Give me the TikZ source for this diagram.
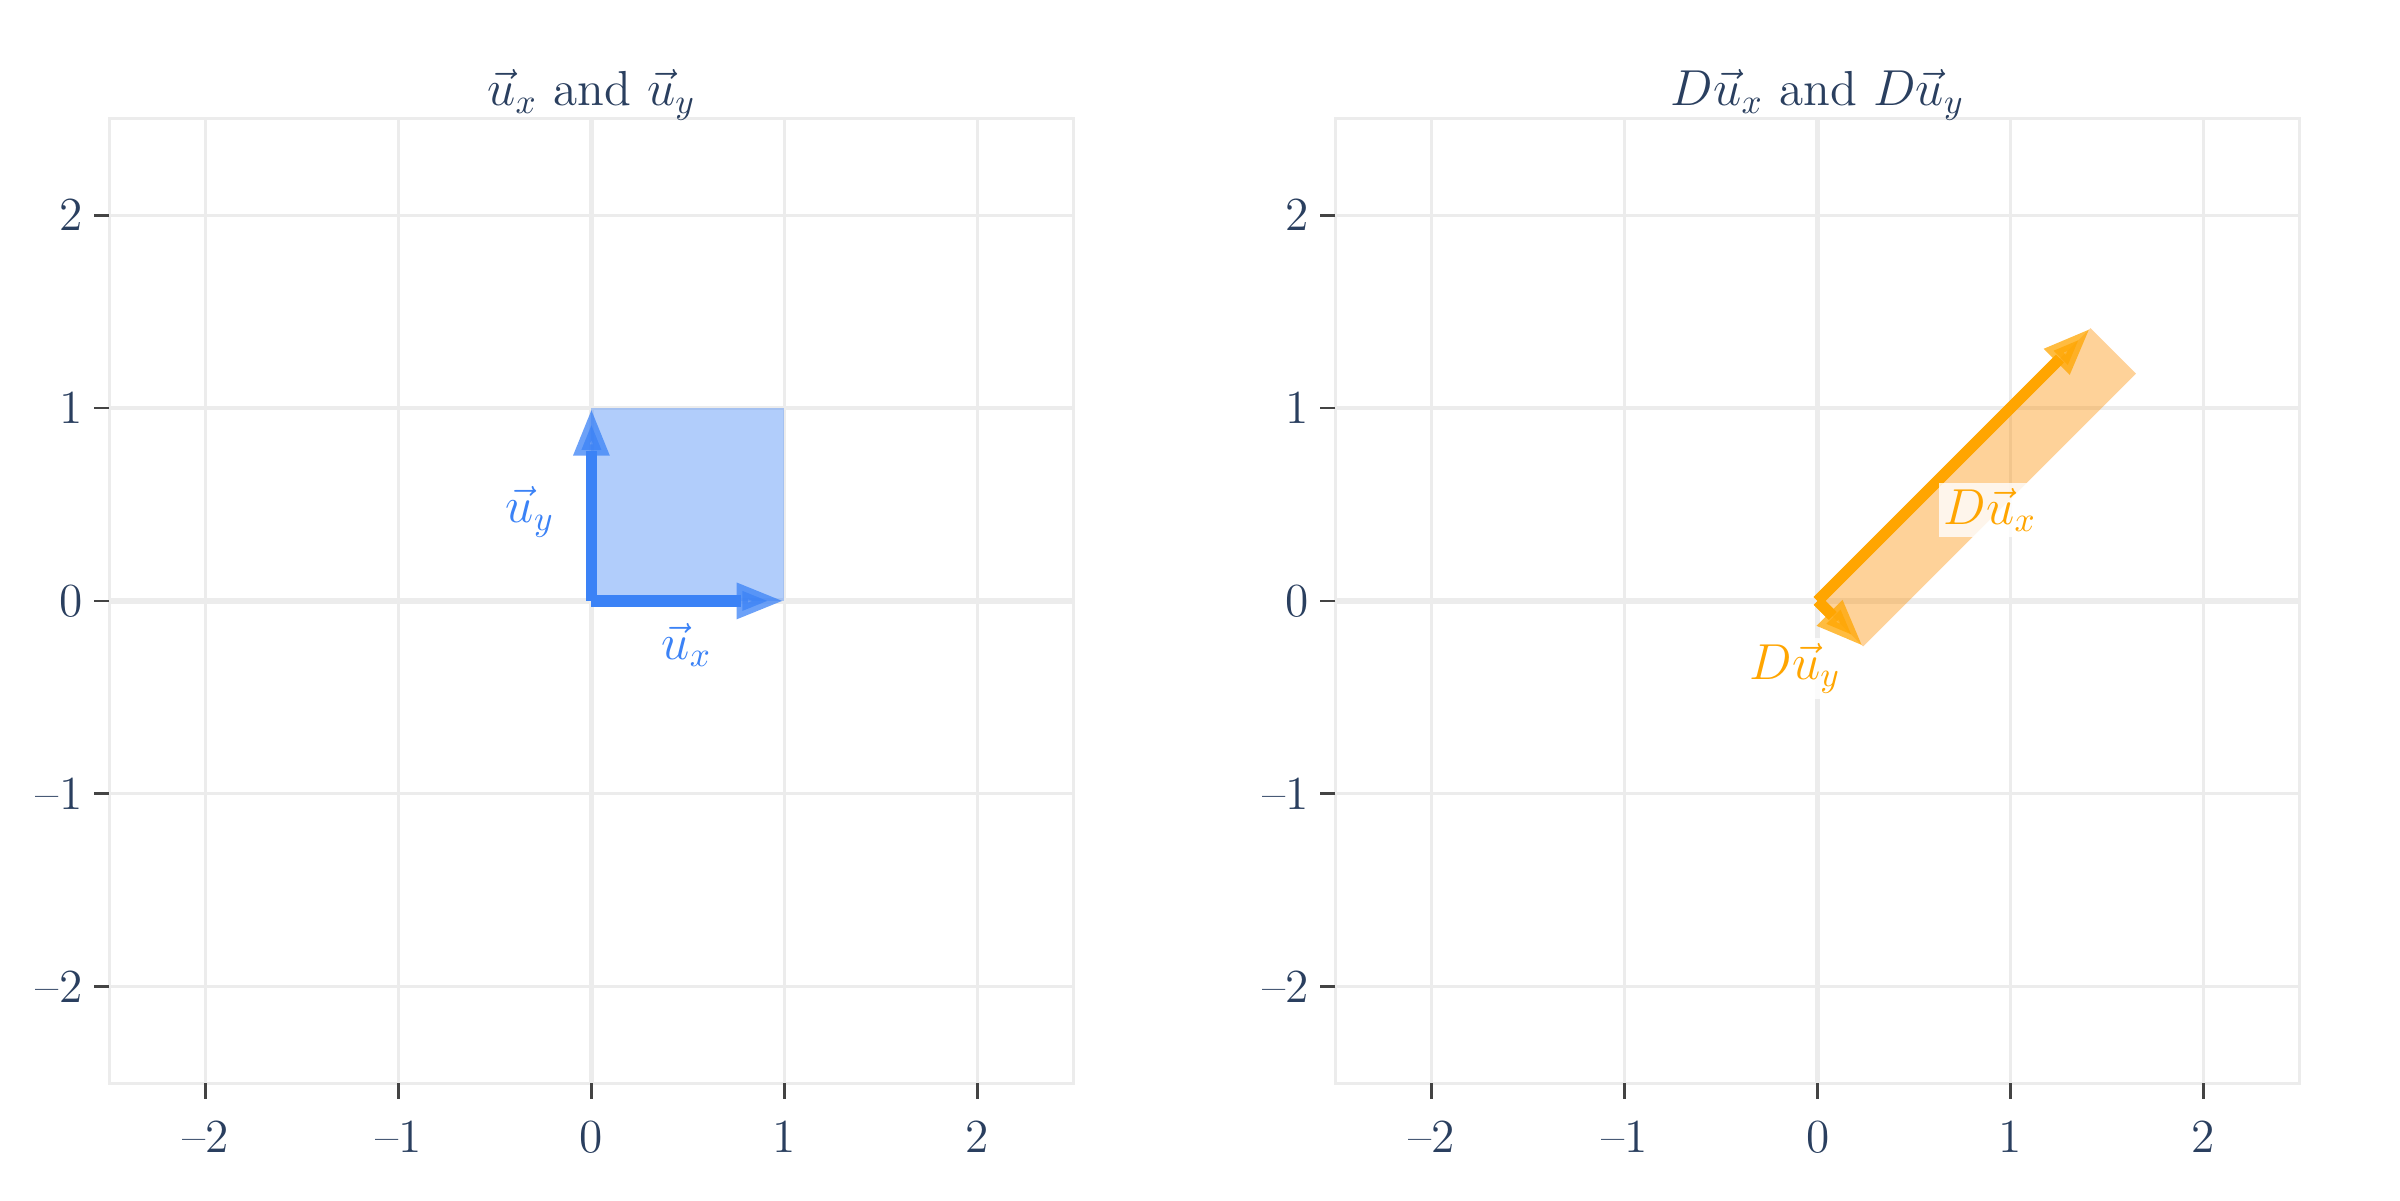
\documentclass[tikz,border=0pt]{standalone}
\usepackage{amsmath}
\usepackage{tikz}
\usetikzlibrary{arrows.meta,calc}

\definecolor{fontcol}{HTML}{2A3F5F}
\definecolor{gridcol}{RGB}{236,236,236}
\definecolor{tickcol}{HTML}{444444}
\definecolor{bluevec}{HTML}{3B82F6}
\definecolor{orangevec}{HTML}{FFA500}
\definecolor{orangefill}{RGB}{252,142,0}

\begin{document}
\begin{tikzpicture}[x=1.929cm, y=1.929cm,
  gridline/.style={draw=gridcol, line width=0.9pt},
  zeroaxis/.style={draw=gridcol, line width=1.6pt},
  tickmark/.style={draw=tickcol, line width=0.8pt},
  ticklabel/.style={text=fontcol, inner sep=0pt, font=\fontsize{13.5}{15}\selectfont},
  plottitle/.style={text=fontcol, inner sep=0pt, anchor=base, font=\fontsize{14}{16}\selectfont},
  vec/.style={line width=3.2pt, shorten >=0.43cm},
  vectip/.style={line width=3.2pt, draw opacity=0.75, fill opacity=0.75,
    -{Triangle[length=0.476cm, width=0.33cm]}},
  veclabel/.style={inner sep=1.5pt, fill=white, fill opacity=0.8, text opacity=1,
    font=\fontsize{14.5}{16}\selectfont}]
  \useasboundingbox (0cm,0cm) rectangle (24cm,12cm);

  % two frames: grid, zero lines, ticks, titles
  \foreach \p/\ox/\ttl in {L/5.914/{$\vec{u}_x$ and $\vec{u}_y$},
                          R/18.176/{$D\vec{u}_x$ and $D\vec{u}_y$}} {
    \begin{scope}[xshift=\ox cm, yshift=5.991cm]
      \foreach \v in {-2,-1,1,2} {
        \draw[gridline] (\v,-2.5) -- (\v,2.5);
        \draw[gridline] (-2.5,\v) -- (2.5,\v);
      }
      \draw[zeroaxis] (0,-2.5) -- (0,2.5);
      \draw[zeroaxis] (-2.5,0) -- (2.5,0);
      \draw[gridline] (-2.5,-2.5) rectangle (2.5,2.5);
      \foreach \v/\t in {-2/--2, -1/--1, 0/0, 1/1, 2/2} {
        \draw[tickmark] (\v,-2.5) -- (\v,-2.58);
        \draw[tickmark] (-2.5,\v) -- (-2.58,\v);
        \node[ticklabel, anchor=base] (\p-xt\v) at (\v,-2.86) {\t};
        \node[ticklabel, anchor=east] (\p-yt\v) at (-2.635,\v) {\t};
      }
      \node[plottitle] (\p-title) at (0,2.566) {\ttl};
    \end{scope}
  }

  % unit vectors
  \begin{scope}[xshift=5.914cm, yshift=5.991cm]
    \coordinate (O1) at (0,0);
    \coordinate (ux) at (1,0);
    \coordinate (uy) at (0,1);
    \fill[bluevec, fill opacity=0.4] (O1) rectangle (1,1);
    \draw[vec, bluevec] (O1) -- (ux);
    \draw[vectip, bluevec] (O1) -- (ux);
    \draw[vec, bluevec] (O1) -- (uy);
    \draw[vectip, bluevec] (O1) -- (uy);
    \node[veclabel, text=bluevec] (lux) at (0.494,-0.229) {$\vec{u}_x$};
    \node[veclabel, text=bluevec] (luy) at (-0.318,0.462) {$\vec{u}_y$};
  \end{scope}

  % transformed vectors
  \begin{scope}[xshift=18.176cm, yshift=5.991cm]
    \coordinate (O2) at (0,0);
    \coordinate (Dux) at (1.414,1.414);
    \coordinate (Duy) at (0.236,-0.236);
    \fill[orangefill, fill opacity=0.4] (O2) -- (Dux) -- ($(Dux)+(Duy)$) -- (Duy) -- cycle;
    \draw[vec, orangevec] (O2) -- (Dux);
    \draw[vectip, orangevec] (O2) -- (Dux);
    \draw[vec, orangevec] (O2) -- (Duy);
    \draw[vectip, orangevec] (O2) -- (Duy);
    \node[veclabel, text=orangevec] (lDux) at (0.894,0.471) {$D\vec{u}_x$};
    \node[veclabel, text=orangevec] (lDuy) at (-0.117,-0.349) {$D\vec{u}_y$};
  \end{scope}
\end{tikzpicture}
\end{document}
